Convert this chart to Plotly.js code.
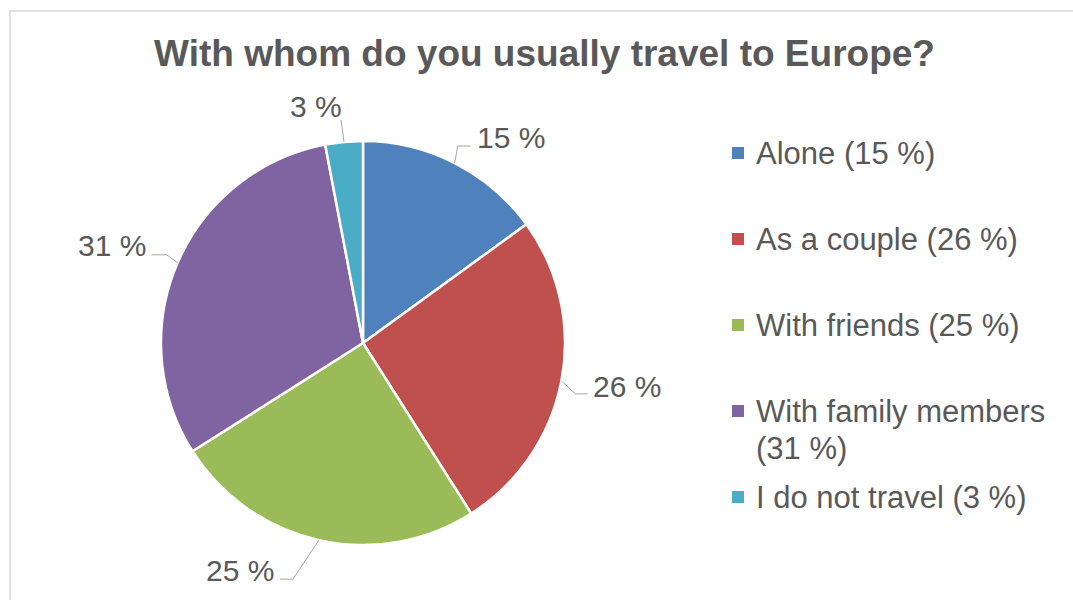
<!DOCTYPE html>
<html>
<head>
<meta charset="utf-8">
<script src="https://cdn.plot.ly/plotly-3.0.1.min.js"></script>
<style>
  html, body { margin: 0; padding: 0; background: #ffffff; }
  #chart { width: 1073px; height: 600px; }
</style>
</head>
<body>
<div id="chart"></div>
<script>
// ---- data ----
const categories = ["Alone", "As a couple", "With friends", "With family members", "I do not travel"];
const values = [15, 26, 25, 31, 3];
const colors = ["#4F81BD", "#C0504D", "#9BBB59", "#8064A2", "#4BACC6"];
const titleText = "With whom do you usually travel to Europe?";

// ---- layout constants (pixels) ----
const W = 1073, H = 600;
const pieBox = { left: 161, right: 565, top: 141, bottom: 545 };
// leader-line geometry per label: elbow offset from slice edge, horizontal run, text offset from line end
const labelGeom = [
  { ex: 3,   ey: -17, hx: 13,  tx: 5,  ty: -9,  anchor: "left" },
  { ex: 14,  ey: 13,  hx: 12,  tx: 5,  ty: -7,  anchor: "left" },
  { ex: -26, ey: 39,  hx: -13, tx: -5, ty: -9,  anchor: "right" },
  { ex: -11, ey: -8,  hx: -15, tx: -5, ty: -9,  anchor: "right" },
  { ex: -3,  ey: -22, hx: 0,   tx: 2,  ty: -13, anchor: "right" }
];
const legendPos = { squareX: 738, textX: 755, firstY: 153, step: 86, lineStep: 37, square: 12, wrapChars: 23 };

const X = px => px / W;
const Y = py => 1 - py / H;
const textColor = "#595959";
const fontFam = "Liberation Sans, Arial, sans-serif";

const total = values.reduce((a, b) => a + b, 0);
const cx = (pieBox.left + pieBox.right) / 2;
const cy = (pieBox.top + pieBox.bottom) / 2;
const R = Math.min(pieBox.right - pieBox.left, pieBox.bottom - pieBox.top) / 2;

const annotations = [];
const shapes = [];

// data labels with leader lines, positioned from the slice mid-angles
let cum = 0;
values.forEach((v, i) => {
  const mid = (cum + v / 2) / total * 2 * Math.PI;
  cum += v;
  const ax = cx + R * Math.sin(mid);
  const ay = cy - R * Math.cos(mid);
  const g = labelGeom[i];
  const elx = ax + g.ex, ely = ay + g.ey;
  const endx = elx + g.hx, endy = ely;
  shapes.push({
    type: "path", xref: "paper", yref: "paper",
    path: `M ${X(ax)} ${Y(ay)} L ${X(elx)} ${Y(ely)} L ${X(endx)} ${Y(endy)}`,
    line: { color: "#A6A6A6", width: 1 }
  });
  annotations.push({
    xref: "paper", yref: "paper",
    x: X(endx + g.tx), y: Y(endy + g.ty),
    xanchor: g.anchor, yanchor: "middle",
    text: v + " %", showarrow: false, borderpad: 0,
    font: { family: fontFam, size: 30, color: textColor }
  });
});

// legend built from the categories
categories.forEach((c, i) => {
  const full = c + " (" + values[i] + " %)";
  const lines = full.length > legendPos.wrapChars ? [c, "(" + values[i] + " %)"] : [full];
  const yc = legendPos.firstY + legendPos.step * i;
  const s = legendPos.square / 2;
  shapes.push({
    type: "rect", xref: "paper", yref: "paper",
    x0: X(legendPos.squareX - s), x1: X(legendPos.squareX + s),
    y0: Y(yc + s), y1: Y(yc - s),
    fillcolor: colors[i], line: { width: 0 }
  });
  lines.forEach((t, k) => {
    annotations.push({
      xref: "paper", yref: "paper",
      x: X(legendPos.textX), y: Y(yc + k * legendPos.lineStep),
      xanchor: "left", yanchor: "middle",
      text: t, showarrow: false, borderpad: 0,
      font: { family: fontFam, size: 31, color: textColor }
    });
  });
});

// chart frame (top and left edges visible)
shapes.push({
  type: "path", xref: "paper", yref: "paper",
  path: `M ${X(10)} ${Y(600)} L ${X(10)} ${Y(11)} L ${X(1073)} ${Y(11)}`,
  line: { color: "#D9D9D9", width: 1.5 }
});

const trace = {
  type: "pie",
  labels: categories,
  values: values,
  sort: false,
  direction: "clockwise",
  rotation: 0,
  textinfo: "none",
  hoverinfo: "label+percent",
  marker: { colors: colors, line: { color: "#FFFFFF", width: 2.5 } },
  domain: { x: [X(pieBox.left), X(pieBox.right)], y: [Y(pieBox.bottom), Y(pieBox.top)] },
  showlegend: false
};

const layout = {
  width: W, height: H,
  margin: { l: 0, r: 0, t: 0, b: 0 },
  paper_bgcolor: "#FFFFFF",
  showlegend: false,
  title: {
    text: "<b>" + titleText + "</b>",
    x: X(544.5), xanchor: "center", xref: "paper",
    y: Y(53), yanchor: "middle", yref: "paper",
    font: { family: fontFam, size: 37, color: textColor }
  },
  annotations: annotations,
  shapes: shapes
};

Plotly.newPlot("chart", [trace], layout, { displayModeBar: false, staticPlot: true });
</script>
</body>
</html>
